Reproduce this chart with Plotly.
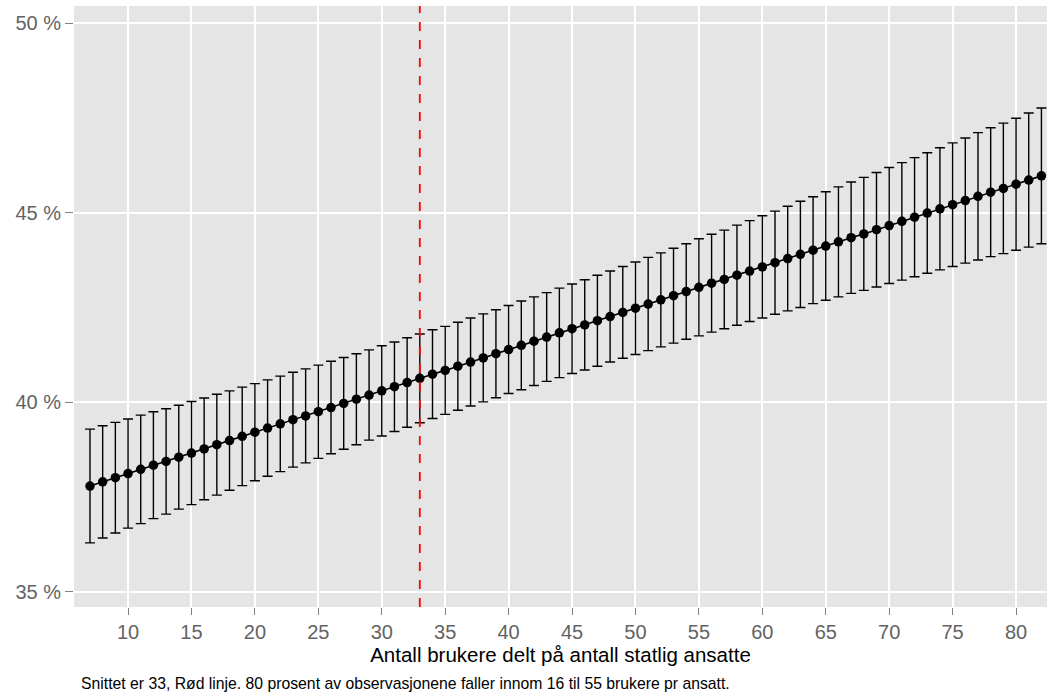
import plotly.graph_objects as go

# Antall brukere per statlig ansatt
x_vals = list(range(7, 83))

# Predikert andel (prosent)
y_pred = [
    37.79, 37.90, 38.01, 38.12, 38.23, 38.34, 38.44, 38.55, 38.66, 38.77,
    38.88, 38.99, 39.10, 39.21, 39.32, 39.43, 39.54, 39.64, 39.75, 39.86,
    39.97, 40.08, 40.19, 40.30, 40.41, 40.52, 40.63, 40.74, 40.84, 40.95,
    41.06, 41.17, 41.28, 41.39, 41.50, 41.61, 41.72, 41.83, 41.94, 42.04,
    42.15, 42.26, 42.37, 42.48, 42.59, 42.70, 42.81, 42.92, 43.03, 43.14,
    43.24, 43.35, 43.46, 43.57, 43.68, 43.79, 43.90, 44.01, 44.12, 44.23,
    44.34, 44.44, 44.55, 44.66, 44.77, 44.88, 44.99, 45.10, 45.21, 45.32,
    45.43, 45.54, 45.64, 45.75, 45.86, 45.97,
]

# Halv bredde på konfidensintervallet (prosentpoeng)
ci_half = [
    1.50, 1.48, 1.46, 1.44, 1.43, 1.41, 1.39, 1.37, 1.36, 1.34,
    1.33, 1.31, 1.30, 1.28, 1.27, 1.26, 1.25, 1.24, 1.23, 1.22,
    1.21, 1.20, 1.19, 1.19, 1.18, 1.18, 1.17, 1.17, 1.16, 1.16,
    1.16, 1.16, 1.16, 1.16, 1.17, 1.17, 1.17, 1.18, 1.18, 1.19,
    1.20, 1.20, 1.21, 1.22, 1.23, 1.24, 1.25, 1.26, 1.28, 1.29,
    1.30, 1.32, 1.33, 1.35, 1.36, 1.38, 1.40, 1.41, 1.43, 1.45,
    1.47, 1.49, 1.51, 1.53, 1.55, 1.57, 1.59, 1.61, 1.63, 1.65,
    1.68, 1.70, 1.72, 1.74, 1.77, 1.79,
]

mean_line = 33
x_ticks = list(range(10, 85, 5))
y_ticks = [35, 40, 45, 50]
y_tick_text = ["35 %", "40 %", "45 %", "50 %"]

x_title = "Antall brukere delt på antall statlig ansatte"
caption = ("Snittet er 33, Rød linje. 80 prosent av observasjonene faller "
           "innom 16 til 55 brukere pr ansatt.")

FONT = "Liberation Sans, Arial, Helvetica, sans-serif"
TICK_GREY = "#636363"

fig = go.Figure()

fig.add_trace(go.Scatter(
    x=x_vals,
    y=y_pred,
    mode="lines+markers",
    line=dict(color="black", width=1.6),
    marker=dict(color="black", size=9.5),
    error_y=dict(type="data", array=ci_half, symmetric=True,
                 color="black", thickness=1.4, width=5),
    showlegend=False,
    hoverinfo="x+y",
))

fig.add_shape(
    type="line", xref="x", yref="paper",
    x0=mean_line, x1=mean_line, y0=0, y1=1,
    line=dict(color="red", width=1.8, dash="dash"),
    layer="above",
)

fig.update_layout(
    width=1047, height=692,
    margin=dict(l=74, r=0, t=6, b=85),
    paper_bgcolor="white",
    plot_bgcolor="#E5E5E5",
    font=dict(family=FONT, color=TICK_GREY),
    xaxis=dict(
        range=[5.74, 82.44],
        tickvals=x_ticks,
        ticks="outside", ticklen=7, tickwidth=1.2, tickcolor="#7F7F7F",
        showgrid=True, gridcolor="white", gridwidth=1.6,
        zeroline=False, showline=False,
        tickfont=dict(size=20, color=TICK_GREY, family=FONT),
        title=dict(text=x_title, font=dict(size=20.5, color="black", family=FONT),
                   standoff=1),
    ),
    yaxis=dict(
        range=[34.6, 50.45],
        tickvals=y_ticks, ticktext=y_tick_text,
        ticks="outside", ticklen=8, tickwidth=1.2, tickcolor="#7F7F7F",
        showgrid=True, gridcolor="white", gridwidth=1.6,
        zeroline=False, showline=False,
        tickfont=dict(size=20, color=TICK_GREY, family=FONT),
    ),
    annotations=[dict(
        text=caption, xref="paper", yref="paper",
        x=0.005, y=-0.128, xanchor="left", yanchor="middle",
        showarrow=False, font=dict(size=15.75, color="black", family=FONT),
    )],
)

fig.write_html("out.html")
